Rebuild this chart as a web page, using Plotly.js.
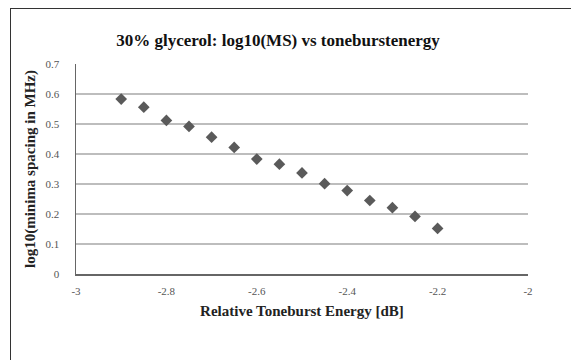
<!DOCTYPE html>
<html><head><meta charset="utf-8">
<script src="https://cdn.plot.ly/plotly-3.0.1.min.js"></script>
<style>
html,body{margin:0;padding:0;background:#fff;}
#frame{position:absolute;left:10px;top:8px;width:600px;height:400px;border-left:1.5px solid #333;border-top:1.5px solid #333;pointer-events:none;z-index:5;}
#chart{width:571px;height:360px;}
</style></head>
<body>
<div id="frame"></div>
<div id="chart"></div>
<script>
var toneburstEnergy = [-2.9,-2.85,-2.8,-2.75,-2.7,-2.65,-2.6,-2.55,-2.5,-2.45,-2.4,-2.35,-2.3,-2.25,-2.2];
var log10MinimaSpacing = [0.583,0.556,0.512,0.492,0.456,0.422,0.383,0.366,0.337,0.301,0.278,0.245,0.221,0.192,0.152];
var xTicks = [-3,-2.8,-2.6,-2.4,-2.2,-2];
var yTicks = [0,0.1,0.2,0.3,0.4,0.5,0.6,0.7];

var serif = 'Liberation Serif';
var trace = {
  x: toneburstEnergy, y: log10MinimaSpacing, type:'scatter', mode:'markers',
  marker:{symbol:'diamond', size:9, color:'#5a5a5a'}, hoverinfo:'none'
};
var layout = {
  width:571, height:360,
  margin:{l:76, r:43, t:64, b:86},
  paper_bgcolor:'#fff', plot_bgcolor:'#fff',
  showlegend:false,
  font:{family:serif},
  title:{text:'<b>30% glycerol: log10(MS) vs toneburstenergy</b>', x:0.487, xanchor:'center', y:0.889, yanchor:'middle', font:{family:serif, size:17, color:'#111'}},
  xaxis:{range:[-3,-2], tickvals:xTicks, ticktext:xTicks.map(String), showgrid:false, zeroline:false,
    showline:true, linecolor:'#666', linewidth:1.5, ticks:'', ticklabelstandoff:6, tickfont:{family:serif, size:11, color:'#555'},
    title:{text:'<b>Relative Toneburst Energy [dB]</b>', font:{family:serif, size:15, color:'#222'}, standoff:10}},
  yaxis:{range:[0,0.7], tickvals:yTicks, ticktext:yTicks.map(String), showgrid:true, gridcolor:'#bdbdbd', gridwidth:1.5,
    zeroline:false, showline:true, linecolor:'#666', linewidth:1.5, ticks:'', ticklabelstandoff:13,
    tickfont:{family:serif, size:11, color:'#555'},
    title:{text:'<b>log10(minima spacing in MHz)</b>', font:{family:serif, size:15, color:'#222'}, standoff:6}}
};
Plotly.newPlot('chart',[trace],layout,{staticPlot:true, displayModeBar:false});
</script>
</body></html>
